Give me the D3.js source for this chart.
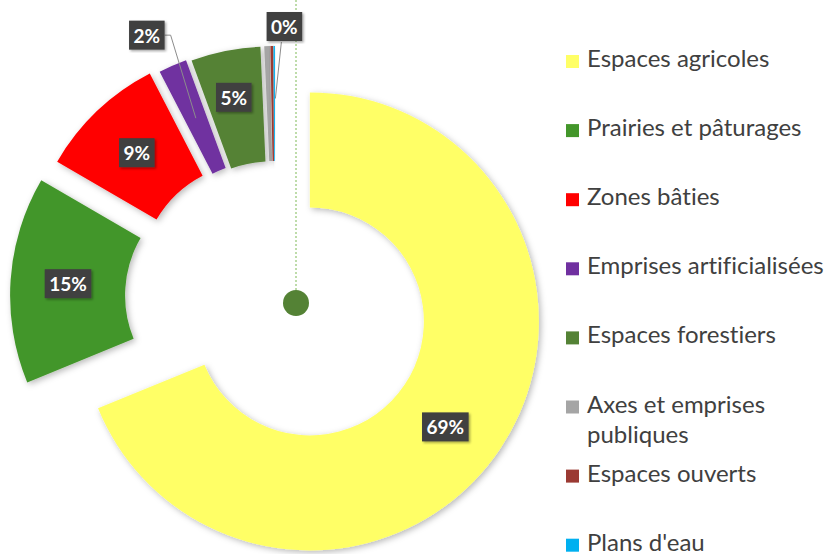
<!DOCTYPE html>
<html>
<head>
<meta charset="utf-8">
<script src="https://cdn.jsdelivr.net/npm/d3@7"></script>
<style>
  body { margin: 0; background: #fff; }
  text { font-family: Lato, "Open Sans", sans-serif; font-variant-ligatures: none; }
</style>
</head>
<body>
<script>
// data (percent of surface)
var categories = ["Espaces agricoles", "Prairies et pâturages", "Zones bâties",
  "Emprises artificialisées", "Espaces forestiers", "Axes et emprises publiques",
  "Espaces ouverts", "Plans d'eau"];
var values = [68.8, 14.6, 9.0, 2.0, 4.9, 0.4, 0.2, 0.1];
var colors = ["#FFFF66", "#43962A", "#FF0000", "#7030A0", "#548235", "#A5A5A5", "#9B3A33", "#00B0F0"];
var shownLabels = [true, true, true, true, true, true, false, false];

var width = 835, height = 554;
var cx = 275, cy = 298;       // pie centre
var outerR = 229, innerR = 114;
// how far each slice is pulled out
var explode = [42, 36, 29, 25, 23, 23, 23, 23];

var svg = d3.select("body").append("svg")
  .attr("width", width)
  .attr("height", height);

var defs = svg.append("defs");
var f = defs.append("filter").attr("id", "shadow")
  .attr("x", "-20%").attr("y", "-20%").attr("width", "140%").attr("height", "140%");
f.append("feDropShadow").attr("dx", 2).attr("dy", 2).attr("stdDeviation", 3)
  .attr("flood-color", "#000").attr("flood-opacity", 0.28);
var f2 = defs.append("filter").attr("id", "lblshadow");
f2.append("feDropShadow").attr("dx", 1.5).attr("dy", 1.5).attr("stdDeviation", 1)
  .attr("flood-color", "#000").attr("flood-opacity", 0.35);

var pie = d3.pie().sort(null).value(function(d){ return d; });
var arcs = pie(values);
var arc = d3.arc().innerRadius(innerR).outerRadius(outerR);

function offset(d) {
  var a = (d.startAngle + d.endAngle) / 2;
  var e = explode[d.index];
  return [cx + e * Math.sin(a), cy - e * Math.cos(a)];
}

// odd leftover element: dotted line and dot
svg.append("line")
  .attr("x1", 296).attr("x2", 296).attr("y1", 0).attr("y2", 290)
  .attr("stroke", "#A9D18E").attr("stroke-width", 1.5)
  .attr("stroke-dasharray", "2,2");

svg.append("g").selectAll("path")
  .data(arcs)
  .enter()
  .append("path")
    .attr("transform", function(d){ var o = offset(d); return "translate(" + o[0] + "," + o[1] + ")"; })
    .attr("d", arc)
    .attr("fill", function(d, i){ return colors[i]; })
    .attr("filter", "url(#shadow)");

svg.append("circle")
  .attr("cx", 296).attr("cy", 303).attr("r", 13)
  .attr("fill", "#548235");

// label positions: centroid, some nudged, outside ones with leader lines
var labelShift = { 0: [-7, 10], 4: [-3, -10], 3: [-49, -83], 5: [10, -77] };
var lbl = svg.append("g");
arcs.forEach(function(d, i) {
  if (!shownLabels[i]) return;
  var o = offset(d);
  var c = arc.centroid(d);
  var px = o[0] + c[0], py = o[1] + c[1];
  var sh = labelShift[i] || [0, 0];
  if (i == 5) {
    // 0% label points at the last small slice
    var dl = arcs[7], ol = offset(dl), cl = arc.centroid(dl);
    px = ol[0] + cl[0]; py = ol[1] + cl[1];
  }
  var lx = px + sh[0], ly = py + sh[1];
  var txt = Math.round(values[i]) + "%";
  var g = lbl.append("g");
  var t = g.append("text")
    .attr("x", lx).attr("y", ly)
    .attr("text-anchor", "middle")
    .attr("dominant-baseline", "central")
    .attr("fill", "#fff")
    .attr("font-weight", "bold")
    .attr("font-size", 19)
    .text(txt);
  var bb = t.node().getBBox();
  var bw = bb.width + 9, bh = 29;
  if (i == 3 || i == 5) {
    var lead = d3.path();
    if (i == 3) {
      lead.moveTo(lx + bw / 2, ly);
      lead.lineTo(lx + bw / 2 + 6, ly);
      lead.lineTo(px, py);
    } else {
      lead.moveTo(lx - 3, ly + bh / 2 + 1);
      lead.lineTo(px + 1, py - 5);
    }
    lbl.insert("path", "g").attr("d", lead.toString())
      .attr("fill", "none").attr("stroke", "#8c8c8c").attr("stroke-width", 1);
  }
  g.insert("rect", "text")
    .attr("x", lx - bw / 2).attr("y", ly - bh / 2)
    .attr("width", bw).attr("height", bh)
    .attr("fill", "#404040")
    .attr("filter", "url(#lblshadow)");
});

// legend
var legendRows = [["Espaces agricoles"], ["Prairies et pâturages"], ["Zones bâties"],
  ["Emprises artificialisées"], ["Espaces forestiers"], ["Axes et emprises", "publiques"],
  ["Espaces ouverts"], ["Plans d'eau"]];
var legend = svg.append("g");
legendRows.forEach(function(lines, i) {
  var base = 67 + i * 69.1;
  legend.append("rect")
    .attr("x", 566).attr("y", base - 12)
    .attr("width", 13).attr("height", 13)
    .attr("fill", colors[i]);
  lines.forEach(function(s, j) {
    legend.append("text")
      .attr("x", 587).attr("y", base + j * 30)
      .attr("fill", "#404040")
      .attr("font-size", 24)
      .text(s);
  });
});
</script>
</body>
</html>
